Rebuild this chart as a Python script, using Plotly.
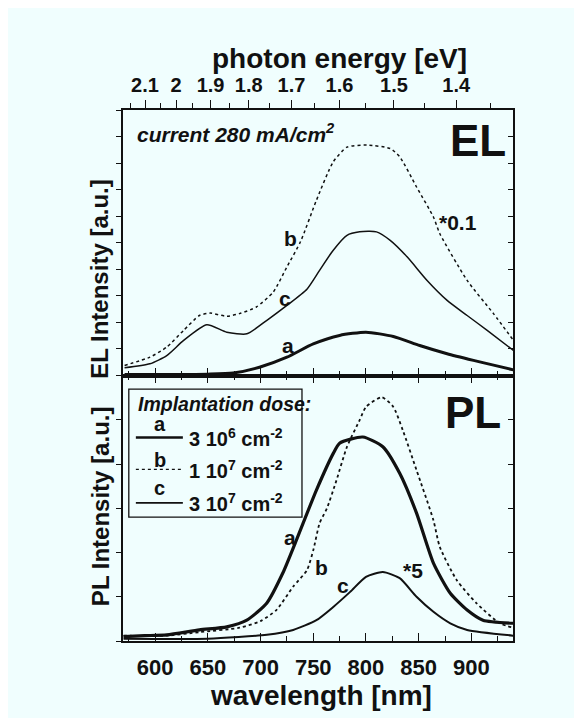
import plotly.graph_objects as go

# ---------------- data ----------------
# EL spectra (upper panel), wavelength in nm, intensity in panel units
el_a_wl = [571, 611, 650, 674, 699, 725, 750, 775, 800, 826, 851, 877, 902, 920, 940]
el_a_val = [0.04, 0.04, 0.05, 0.09, 0.31, 0.69, 1.19, 1.51, 1.63, 1.47, 1.13, 0.82, 0.57, 0.40, 0.21]

el_b_wl = [571, 595, 611, 627, 642, 652, 668, 680, 696, 712, 725, 738, 753, 769, 782, 801, 823, 832, 848, 864, 870, 896, 921, 940]
el_b_val = [0.38, 0.69, 1.07, 1.70, 2.26, 2.35, 2.23, 2.33, 2.58, 3.14, 4.09, 5.05, 6.60, 8.05, 8.60, 8.68, 8.55, 8.24, 7.10, 5.97, 5.35, 3.58, 2.33, 1.32]

el_c_wl = [571, 595, 611, 627, 649, 668, 687, 706, 725, 744, 756, 769, 782, 794, 810, 823, 839, 858, 877, 896, 915, 940]
el_c_val = [0.29, 0.44, 0.75, 1.32, 1.91, 1.63, 1.57, 2.08, 2.64, 3.25, 3.96, 4.72, 5.28, 5.41, 5.41, 5.09, 4.47, 3.58, 2.83, 2.26, 1.70, 0.94]

# PL spectra (lower panel)
pl_a_wl = [570, 590, 611, 642, 668, 687, 706, 721, 734, 753, 769, 775, 797, 816, 832, 848, 864, 880, 896, 911, 940]
pl_a_val = [0.10, 0.12, 0.14, 0.25, 0.32, 0.47, 0.86, 1.53, 2.28, 3.41, 4.24, 4.47, 4.61, 4.39, 3.79, 2.89, 1.76, 1.08, 0.70, 0.47, 0.40]

pl_b_wl = [570, 610, 642, 680, 700, 715, 731, 744, 750, 756, 763, 772, 782, 794, 800, 815, 826, 835, 848, 864, 870, 886, 905, 927, 940]
pl_b_val = [0.12, 0.12, 0.20, 0.30, 0.45, 0.70, 1.23, 1.60, 2.05, 2.66, 3.00, 3.63, 4.39, 4.99, 5.29, 5.51, 5.29, 4.76, 3.86, 2.73, 2.13, 1.38, 0.85, 0.40, 0.30]

pl_c_wl = [570, 650, 706, 731, 753, 769, 785, 800, 816, 832, 848, 864, 880, 896, 940]
pl_c_val = [0.05, 0.05, 0.14, 0.25, 0.47, 0.77, 1.11, 1.45, 1.56, 1.42, 1.00, 0.66, 0.40, 0.25, 0.12]

# axes
wl_range = [569.5, 939.5]
wl_ticks = [600, 650, 700, 750, 800, 850, 900]
wl_minor = [575, 625, 675, 725, 775, 825, 875, 925]
energy_major = [2.1, 2.0, 1.9, 1.8, 1.7, 1.6, 1.5, 1.4]
energy_labels = ["2.1", "2", "1.9", "1.8", "1.7", "1.6", "1.5", "1.4"]
energy_minor = [2.15, 2.05, 1.95, 1.85, 1.75, 1.65, 1.55, 1.45, 1.35]
HC = 1239.84  # eV*nm, converts photon energy ticks to wavelength positions

legend_labels = ["3 10<sup>6</sup> cm<sup>-2</sup>", "1 10<sup>7</sup> cm<sup>-2</sup>", "3 10<sup>7</sup> cm<sup>-2</sup>"]

# ---------------- figure ----------------
BG = "#f0fefe"
INK = "#111111"
FONT = "Liberation Sans"

fig = go.Figure()

def add(x, y, xa, ya, width, dash):
    fig.add_trace(go.Scatter(x=x, y=y, xaxis=xa, yaxis=ya, mode="lines",
                             line=dict(color=INK, width=width, dash=dash, shape="spline", smoothing=0.6),
                             showlegend=False, hoverinfo="skip"))

add(el_b_wl, el_b_val, "x2", "y2", 1.5, "dot")
add(el_c_wl, el_c_val, "x2", "y2", 1.5, "solid")
add(el_a_wl, el_a_val, "x2", "y2", 3, "solid")
add(pl_b_wl, pl_b_val, "x", "y", 1.8, "dot")
add(pl_c_wl, pl_c_val, "x", "y", 2, "solid")
add(pl_a_wl, pl_a_val, "x", "y", 3.2, "solid")

# empty traces so that the overlay axes (energy scale, right-hand tick axes) are drawn
for xa, ya in [("x3", "y2"), ("x", "y3"), ("x2", "y4")]:
    fig.add_trace(go.Scatter(x=[None], y=[None], xaxis=xa, yaxis=ya, mode="lines",
                             showlegend=False, hoverinfo="skip"))

tickfont = dict(family=FONT, size=22, color=INK, weight="bold")
axline = dict(showline=True, linecolor=INK, linewidth=1.5, showgrid=False, zeroline=False)

fig.update_layout(
    width=582, height=718,
    paper_bgcolor=BG, plot_bgcolor=BG,
    margin=dict(l=115, r=77, t=102, b=85),
    xaxis=dict(domain=[0, 1], anchor="y", range=wl_range, tickmode="array", tickvals=wl_ticks,
               ticks="inside", ticklen=8, tickwidth=1.3, tickcolor=INK, mirror="ticks",
               minor=dict(tickmode="array", tickvals=wl_minor, ticks="inside", ticklen=5, tickcolor=INK),
               tickfont=tickfont, ticklabelstandoff=6, **axline),
    xaxis2=dict(domain=[0, 1], anchor="y2", range=wl_range, tickmode="array", tickvals=wl_ticks,
                ticks="inside", ticklen=8, tickwidth=1.3, tickcolor=INK, showticklabels=False,
                minor=dict(tickmode="array", tickvals=wl_minor, ticks="inside", ticklen=5, tickcolor=INK),
                **axline),
    xaxis3=dict(overlaying="x2", anchor="y2", side="top", range=wl_range, tickmode="array",
                tickvals=[HC / e for e in energy_major], ticktext=energy_labels,
                ticks="outside", ticklen=8, tickwidth=1.3, tickcolor=INK,
                minor=dict(tickmode="array", tickvals=[HC / e for e in energy_minor], ticks="outside", ticklen=5, tickcolor=INK),
                tickfont=dict(family=FONT, size=20, color=INK, weight="bold"), **axline),
    yaxis=dict(domain=[0, 0.5], anchor="x", range=[0, 6], dtick=1, ticks="outside", ticklen=5,
               tickcolor=INK, showticklabels=False, **axline),
    yaxis2=dict(domain=[0.5, 1], anchor="x2", range=[0, 10], dtick=1, ticks="outside", ticklen=5,
                tickcolor=INK, showticklabels=False, **axline),
    yaxis3=dict(overlaying="y", anchor="x", side="right", range=[0, 6], dtick=1, ticks="inside", ticklen=5,
                tickcolor=INK, showticklabels=False, **axline),
    yaxis4=dict(overlaying="y2", anchor="x2", side="right", range=[0, 10], dtick=1, ticks="inside", ticklen=5,
                tickcolor=INK, showticklabels=False, **axline),
)

def txt(text, x, y, xref, yref, size, xanchor="center", yanchor="middle", style="normal", angle=0, xshift=0, yshift=0):
    fig.add_annotation(text=text, x=x, y=y, xref=xref, yref=yref, showarrow=False,
                       xanchor=xanchor, yanchor=yanchor, textangle=angle, xshift=xshift, yshift=yshift,
                       font=dict(family=FONT, size=size, color=INK, weight="bold", style=style))

# axis titles
txt("photon energy [eV]", 0.556, 1, "paper", "paper", 28, yshift=52)
txt("wavelength [nm]", 0.507, 0, "paper", "paper", 28, yshift=-54)
txt("EL Intensity [a.u.]", 0, 0.682, "paper", "paper", 24, angle=-90, xshift=-23)
txt("PL Intensity [a.u.]", 0, 0.254, "paper", "paper", 24, angle=-90, xshift=-23)

# EL panel texts
txt("current 280 mA/cm<sup>2</sup>", 580.8, 9.13, "x2", "y2", 21, xanchor="left", style="italic")
txt("EL", 906, 8.87, "x2", "y2", 44)
txt("*0.1", 887, 5.77, "x2", "y2", 21)
txt("b", 728, 5.17, "x2", "y2", 21)
txt("c", 723, 2.9, "x2", "y2", 21)
txt("a", 726, 1.13, "x2", "y2", 21)

# PL panel texts
txt("PL", 901.5, 5.17, "x", "y", 44)
txt("a", 728, 2.35, "x", "y", 21)
txt("b", 758, 1.65, "x", "y", 21)
txt("c", 778, 1.26, "x", "y", 21)
txt("*5", 844.6, 1.6, "x", "y", 21)

# legend box
fig.add_shape(type="rect", xref="x", yref="y", x0=575, x1=739.3, y0=2.8, y1=5.69,
              line=dict(color=INK, width=1.3), fillcolor=BG, layer="above")
txt("Implantation dose:", 581.5, 5.36, "x", "y", 19.5, xanchor="left", style="italic")
entry_letter_y = [4.90, 4.09, 3.45]
entry_line_y = [4.6, 3.88, 3.12]
entry_dash = ["solid", "dot", "solid"]
entry_w = [2.5, 1.3, 1.8]
for lab, ly, ln_y, d, w, t in zip(["a", "b", "c"], entry_letter_y, entry_line_y, entry_dash, entry_w, legend_labels):
    txt(lab, 604.5, ly, "x", "y", 20)
    fig.add_shape(type="line", xref="x", yref="y", x0=581.7, x1=626.3, y0=ln_y, y1=ln_y,
                  line=dict(color=INK, width=w, dash=d), layer="above")
    txt(t, 630, ln_y, "x", "y", 20, xanchor="left")

fig.write_html("out.html")
